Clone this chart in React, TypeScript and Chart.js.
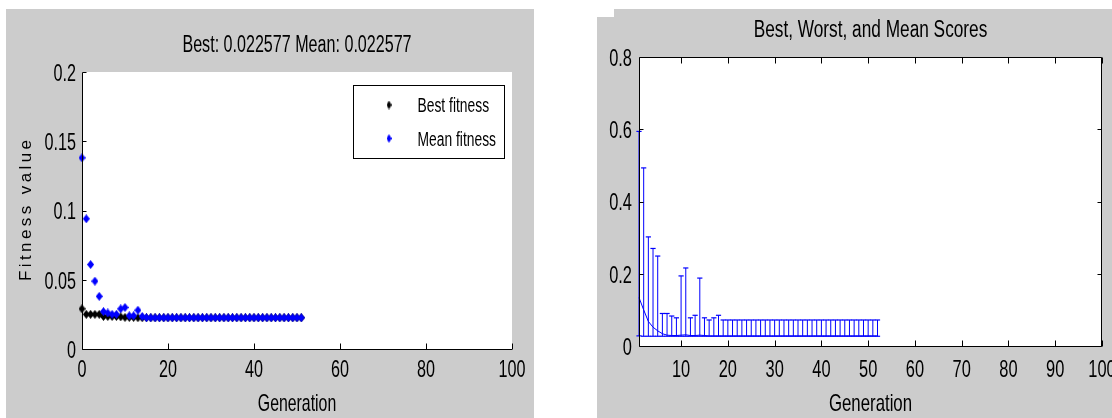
import React, { useEffect, useRef } from "react";
import { Chart, registerables } from "chart.js";

Chart.register(...registerables);

const FONT = "'Liberation Sans', Arial, sans-serif";
const BLUE = "rgb(0,0,255)";
const GRAY = "#cccccc";

// ---------- Left chart data ----------
const leftTitle = "Best: 0.022577 Mean: 0.022577";
const leftXLabel = "Generation";
const leftYLabel = "Fitness value";
const leftSeriesLabels = ["Best fitness", "Mean fitness"];
const leftGenerations = [
  0, 1, 2, 3, 4, 5, 6, 7, 8, 9, 10, 11, 12, 13, 14, 15, 16, 17, 18, 19, 20, 21, 22, 23, 24, 25,
  26, 27, 28, 29, 30, 31, 32, 33, 34, 35, 36, 37, 38, 39, 40, 41, 42, 43, 44, 45, 46, 47, 48, 49,
  50, 51,
];
const bestFitness = [
  0.029, 0.025, 0.025, 0.025, 0.025, 0.0235, 0.0235, 0.0235, 0.0235, 0.0232, 0.0228, 0.0228,
  0.0228, 0.0226, 0.022577, 0.022577, 0.022577, 0.022577, 0.022577, 0.022577, 0.022577,
  0.022577, 0.022577, 0.022577, 0.022577, 0.022577, 0.022577, 0.022577, 0.022577, 0.022577,
  0.022577, 0.022577, 0.022577, 0.022577, 0.022577, 0.022577, 0.022577, 0.022577, 0.022577,
  0.022577, 0.022577, 0.022577, 0.022577, 0.022577, 0.022577, 0.022577, 0.022577, 0.022577,
  0.022577, 0.022577, 0.022577, 0.022577,
];
const meanFitness = [
  0.138, 0.094, 0.061, 0.049, 0.038, 0.027, 0.026, 0.025, 0.025, 0.029, 0.03, 0.024, 0.024, 0.028,
  0.0235, 0.022577, 0.022577, 0.022577, 0.022577, 0.022577, 0.022577, 0.022577, 0.022577,
  0.022577, 0.022577, 0.022577, 0.022577, 0.022577, 0.022577, 0.022577, 0.022577, 0.022577,
  0.022577, 0.022577, 0.022577, 0.022577, 0.022577, 0.022577, 0.022577, 0.022577, 0.022577,
  0.022577, 0.022577, 0.022577, 0.022577, 0.022577, 0.022577, 0.022577, 0.022577, 0.022577,
  0.022577, 0.022577,
];
const leftXTicks = [0, 20, 40, 60, 80, 100];
const leftXTickLabels = ["0", "20", "40", "60", "80", "100"];
const leftYTicks = [0, 0.05, 0.1, 0.15, 0.2];
const leftYTickLabels = ["0", "0.05", "0.1", "0.15", "0.2"];

// ---------- Right chart data ----------
const rightTitle = "Best, Worst, and Mean Scores";
const rightXLabel = "Generation";
const rightGenerations = [
  1, 2, 3, 4, 5, 6, 7, 8, 9, 10, 11, 12, 13, 14, 15, 16, 17, 18, 19, 20, 21, 22, 23, 24, 25, 26,
  27, 28, 29, 30, 31, 32, 33, 34, 35, 36, 37, 38, 39, 40, 41, 42, 43, 44, 45, 46, 47, 48, 49, 50,
  51, 52,
];
const bestScores = [
  0.028, 0.027, 0.027, 0.027, 0.027, 0.027, 0.027, 0.027, 0.027, 0.027, 0.027, 0.027, 0.027,
  0.027, 0.027, 0.027, 0.027, 0.027, 0.027, 0.027, 0.027, 0.027, 0.027, 0.027, 0.027, 0.027,
  0.027, 0.027, 0.027, 0.027, 0.027, 0.027, 0.027, 0.027, 0.027, 0.027, 0.027, 0.027, 0.027,
  0.027, 0.027, 0.027, 0.027, 0.027, 0.027, 0.027, 0.027, 0.027, 0.027, 0.027, 0.027, 0.027,
];
const worstScores = [
  0.594, 0.493, 0.302, 0.27, 0.249, 0.09, 0.09, 0.083, 0.078, 0.194, 0.216, 0.078, 0.085, 0.188,
  0.078, 0.072, 0.078, 0.085, 0.072, 0.072, 0.072, 0.072, 0.072, 0.072, 0.072, 0.072, 0.072,
  0.072, 0.072, 0.072, 0.072, 0.072, 0.072, 0.072, 0.072, 0.072, 0.072, 0.072, 0.072, 0.072,
  0.072, 0.072, 0.072, 0.072, 0.072, 0.072, 0.072, 0.072, 0.072, 0.072, 0.072, 0.072,
];
const meanScores = [
  0.134, 0.1, 0.068, 0.052, 0.042, 0.034, 0.03, 0.029, 0.029, 0.03, 0.031, 0.029, 0.029, 0.03,
  0.029, 0.028, 0.028, 0.028, 0.028, 0.028, 0.028, 0.028, 0.028, 0.028, 0.028, 0.028, 0.028,
  0.028, 0.028, 0.028, 0.028, 0.028, 0.028, 0.028, 0.028, 0.028, 0.028, 0.028, 0.028, 0.028,
  0.028, 0.028, 0.028, 0.028, 0.028, 0.028, 0.028, 0.028, 0.028, 0.028, 0.028, 0.028,
];
const rightXTicks = [10, 20, 30, 40, 50, 60, 70, 80, 90, 100];
const rightXTickLabels = ["10", "20", "30", "40", "50", "60", "70", "80", "90", "100"];
const rightYTicks = [0, 0.2, 0.4, 0.6, 0.8];
const rightYTickLabels = ["0", "0.2", "0.4", "0.6", "0.8"];

// ---------- helpers ----------
function makeDiamond(color: string, w: number, h: number) {
  const c = document.createElement("canvas");
  c.width = w;
  c.height = h;
  const g = c.getContext("2d")!;
  g.fillStyle = color;
  g.beginPath();
  g.moveTo(w / 2, 0);
  g.lineTo(w, h / 2);
  g.lineTo(w / 2, h);
  g.lineTo(0, h / 2);
  g.closePath();
  g.fill();
  return c;
}

// condensed (MATLAB-like) text: regular face squeezed horizontally
function narrowText(
  ctx: CanvasRenderingContext2D,
  text: string,
  x: number,
  baseline: number,
  size: number,
  sx: number,
  align: CanvasTextAlign
) {
  ctx.save();
  ctx.translate(x, baseline);
  ctx.scale(sx, 1);
  ctx.font = `${size}px ${FONT}`;
  ctx.fillStyle = "#000";
  ctx.textAlign = align;
  ctx.textBaseline = "alphabetic";
  ctx.fillText(text, 0, 0);
  ctx.restore();
}

const backgroundPlugin = {
  id: "matlabBackground",
  beforeDraw(chart: any) {
    const { ctx, chartArea: a, width, height } = chart;
    ctx.save();
    ctx.fillStyle = GRAY;
    ctx.fillRect(0, 0, width, height);
    ctx.fillStyle = "#ffffff";
    ctx.fillRect(a.left, a.top, a.right - a.left, a.bottom - a.top);
    ctx.restore();
  },
};

function axesPlugin(box: boolean, xLen: number, yLen: number) {
  return {
    id: "matlabAxes",
    afterDatasetsDraw(chart: any) {
      const { ctx, chartArea: a, scales } = chart;
      const L = Math.round(a.left) + 0.5;
      const B = Math.round(a.bottom) + 0.5;
      const T = Math.round(a.top) + 0.5;
      const R = Math.round(a.right) - 0.5;
      ctx.save();
      ctx.strokeStyle = "#000";
      ctx.lineWidth = 1;
      ctx.beginPath();
      ctx.moveTo(L, T);
      ctx.lineTo(L, B);
      ctx.lineTo(box ? R : a.right, B);
      if (box) {
        ctx.lineTo(R, T);
        ctx.lineTo(L, T);
      }
      for (const t of scales.x.ticks) {
        const p = Math.round(scales.x.getPixelForValue(t.value)) + 0.5;
        ctx.moveTo(p, B);
        ctx.lineTo(p, B - xLen);
        if (box) {
          ctx.moveTo(p, T);
          ctx.lineTo(p, T + xLen);
        }
      }
      for (const t of scales.y.ticks) {
        const p = Math.round(scales.y.getPixelForValue(t.value)) + 0.5;
        ctx.moveTo(L, p);
        ctx.lineTo(L + yLen, p);
        if (box) {
          ctx.moveTo(R, p);
          ctx.lineTo(R - yLen, p);
        }
      }
      ctx.stroke();
      ctx.restore();
    },
  };
}

type TextCfg = {
  title: string;
  titleBaseline: number;
  titleSize: number;
  titleSx: number;
  xLabel: string;
  xLabelBaseline: number;
  xLabelSx: number;
  xTickLabels: string[];
  yTickLabels: string[];
  xTickBaseline: number;
  yTickGap: number;
  tickSize: number;
  tickSx: number;
};

function textPlugin(cfg: TextCfg) {
  return {
    id: "matlabText",
    afterDraw(chart: any) {
      const { ctx, chartArea: a, scales } = chart;
      const cx = (a.left + a.right) / 2;
      narrowText(ctx, cfg.title, cx, cfg.titleBaseline, cfg.titleSize, cfg.titleSx, "center");
      narrowText(ctx, cfg.xLabel, cx, cfg.xLabelBaseline, 24, cfg.xLabelSx, "center");
      scales.x.ticks.forEach((t: any, i: number) => {
        narrowText(
          ctx,
          cfg.xTickLabels[i],
          scales.x.getPixelForValue(t.value),
          cfg.xTickBaseline,
          cfg.tickSize,
          cfg.tickSx,
          "center"
        );
      });
      scales.y.ticks.forEach((t: any, i: number) => {
        narrowText(
          ctx,
          cfg.yTickLabels[i],
          a.left - cfg.yTickGap,
          scales.y.getPixelForValue(t.value) + cfg.tickSize * 0.358,
          cfg.tickSize,
          cfg.tickSx,
          "right"
        );
      });
    },
  };
}

const leftLegendPlugin = {
  id: "matlabLegend",
  afterDraw(chart: any) {
    const { ctx } = chart;
    const x0 = 347.5,
      y0 = 76.5,
      w = 151,
      h = 73;
    ctx.save();
    ctx.fillStyle = "#fff";
    ctx.fillRect(x0, y0, w, h);
    ctx.strokeStyle = "#000";
    ctx.lineWidth = 1;
    ctx.strokeRect(x0, y0, w, h);
    ctx.restore();
    const rows = [96, 129.5];
    chart.data.datasets.forEach((ds: any, i: number) => {
      const img = ds.legendMarker as HTMLCanvasElement;
      ctx.drawImage(img, 383 - img.width / 2, rows[i] - img.height / 2);
      narrowText(ctx, ds.label, 411.5, rows[i] + 7, 19.5, 0.71, "left");
    });
  },
};

const leftYTitlePlugin = {
  id: "matlabYTitle",
  afterDraw(chart: any) {
    const { ctx, chartArea: a } = chart;
    ctx.save();
    ctx.translate(20, (a.top + a.bottom) / 2);
    ctx.rotate(-Math.PI / 2);
    ctx.fillStyle = "#000";
    ctx.font = `17px ${FONT}`;
    (ctx as any).letterSpacing = "3.4px";
    ctx.textAlign = "center";
    ctx.textBaseline = "middle";
    ctx.fillText(leftYLabel, 1.7, 0);
    ctx.restore();
  },
};

const hiddenTicks = { display: false };

function LeftChart() {
  const ref = useRef<HTMLCanvasElement>(null);
  useEffect(() => {
    const blackD = makeDiamond("#000", 7, 9);
    const blueD = makeDiamond(BLUE, 7, 9);
    const chart = new Chart(ref.current!, {
      type: "scatter",
      data: {
        datasets: [
          {
            label: leftSeriesLabels[0],
            data: leftGenerations.map((g, i) => ({ x: g, y: bestFitness[i] })),
            pointStyle: blackD as any,
            pointRadius: 4,
            order: 1,
            clip: false as any,
            legendMarker: makeDiamond("#000", 5, 9),
          } as any,
          {
            label: leftSeriesLabels[1],
            data: leftGenerations.map((g, i) => ({ x: g, y: meanFitness[i] })),
            pointStyle: blueD as any,
            pointRadius: 4,
            order: 0,
            clip: false as any,
            legendMarker: makeDiamond(BLUE, 5, 9),
          } as any,
        ],
      },
      options: {
        responsive: false,
        animation: false,
        events: [],
        layout: { padding: { left: 0, right: 22, top: 63, bottom: 0 } },
        plugins: {
          legend: { display: false },
          tooltip: { enabled: false },
          title: { display: false },
        },
        scales: {
          x: {
            type: "linear",
            min: 0,
            max: 100,
            afterBuildTicks: (s: any) => {
              s.ticks = leftXTicks.map((v) => ({ value: v }));
            },
            afterFit: (s: any) => {
              s.height = 69;
              s.paddingLeft = 0;
              s.paddingRight = 0;
            },
            grid: { display: false, drawTicks: false },
            border: { display: false },
            ticks: hiddenTicks,
          },
          y: {
            type: "linear",
            min: 0,
            max: 0.2,
            afterBuildTicks: (s: any) => {
              s.ticks = leftYTicks.map((v) => ({ value: v }));
            },
            afterFit: (s: any) => {
              s.width = 76;
              s.paddingTop = 0;
              s.paddingBottom = 0;
            },
            grid: { display: false, drawTicks: false },
            border: { display: false },
            ticks: hiddenTicks,
          },
        },
      },
      plugins: [
        backgroundPlugin,
        axesPlugin(false, 6, 4),
        textPlugin({
          title: leftTitle,
          titleBaseline: 42.7,
          titleSize: 23,
          titleSx: 0.7,
          xLabel: leftXLabel,
          xLabelBaseline: 401.5,
          xLabelSx: 0.66,
          xTickLabels: leftXTickLabels,
          yTickLabels: leftYTickLabels,
          xTickBaseline: 368,
          yTickGap: 6,
          tickSize: 24.5,
          tickSx: 0.66,
        }),
        leftLegendPlugin,
        leftYTitlePlugin,
      ],
    } as any);
    return () => chart.destroy();
  }, []);
  return (
    <canvas
      ref={ref}
      width={528}
      height={409}
      style={{ position: "absolute", left: 6, top: 9, width: 528, height: 409 }}
    />
  );
}

function RightChart() {
  const ref = useRef<HTMLCanvasElement>(null);
  useEffect(() => {
    const rangeData: any[] = [];
    rightGenerations.forEach((g, i) => {
      rangeData.push({ x: g, y: bestScores[i] });
      rangeData.push({ x: g, y: worstScores[i] });
      rangeData.push({ x: g, y: null });
    });
    const chart = new Chart(ref.current!, {
      type: "scatter",
      data: {
        datasets: [
          {
            label: "Mean",
            data: rightGenerations.map((g, i) => ({ x: g, y: meanScores[i] })),
            showLine: true,
            borderColor: BLUE,
            borderWidth: 1,
            pointRadius: 0,
            tension: 0,
            clip: false as any,
          },
          {
            label: "Range",
            data: rangeData,
            showLine: true,
            spanGaps: false,
            borderColor: BLUE,
            borderWidth: 1,
            pointRadius: 0,
            clip: false as any,
          },
          {
            label: "Worst",
            data: rightGenerations.map((g, i) => ({ x: g, y: worstScores[i] })),
            pointStyle: "line",
            pointRadius: 2.6,
            pointBorderColor: BLUE,
            pointBackgroundColor: BLUE,
            pointBorderWidth: 1.2,
            clip: false as any,
          },
          {
            label: "Best",
            data: rightGenerations.map((g, i) => ({ x: g, y: bestScores[i] })),
            pointStyle: "line",
            pointRadius: 2.6,
            pointBorderColor: BLUE,
            pointBackgroundColor: BLUE,
            pointBorderWidth: 1.2,
            clip: false as any,
          },
        ],
      },
      options: {
        responsive: false,
        animation: false,
        events: [],
        layout: { padding: { left: 0, right: 10, top: 48, bottom: 0 } },
        plugins: {
          legend: { display: false },
          tooltip: { enabled: false },
          title: { display: false },
        },
        scales: {
          x: {
            type: "linear",
            min: 1,
            max: 100,
            afterBuildTicks: (s: any) => {
              s.ticks = rightXTicks.map((v) => ({ value: v }));
            },
            afterFit: (s: any) => {
              s.height = 72;
              s.paddingLeft = 0;
              s.paddingRight = 0;
            },
            grid: { display: false, drawTicks: false },
            border: { display: false },
            ticks: hiddenTicks,
          },
          y: {
            type: "linear",
            min: 0,
            max: 0.8,
            afterBuildTicks: (s: any) => {
              s.ticks = rightYTicks.map((v) => ({ value: v }));
            },
            afterFit: (s: any) => {
              s.width = 42;
              s.paddingTop = 0;
              s.paddingBottom = 0;
            },
            grid: { display: false, drawTicks: false },
            border: { display: false },
            ticks: hiddenTicks,
          },
        },
      },
      plugins: [
        backgroundPlugin,
        axesPlugin(true, 6, 4),
        textPlugin({
          title: rightTitle,
          titleBaseline: 27.7,
          titleSize: 23,
          titleSx: 0.75,
          xLabel: rightXLabel,
          xLabelBaseline: 401.5,
          xLabelSx: 0.7,
          xTickLabels: rightXTickLabels,
          yTickLabels: rightYTickLabels,
          xTickBaseline: 367.7,
          yTickGap: 7,
          tickSize: 24.5,
          tickSx: 0.67,
        }),
      ],
    } as any);
    return () => chart.destroy();
  }, []);
  return (
    <canvas
      ref={ref}
      width={515}
      height={409}
      style={{ position: "absolute", left: 597, top: 9, width: 515, height: 409 }}
    />
  );
}

export default function App() {
  return (
    <div
      style={{
        position: "absolute",
        left: 0,
        top: 0,
        width: 1112,
        height: 418,
        background: "#ffffff",
        overflow: "hidden",
      }}
    >
      <LeftChart />
      <RightChart />
      <div
        style={{
          position: "absolute",
          left: 597,
          top: 9,
          width: 17,
          height: 8,
          background: "#ffffff",
        }}
      />
    </div>
  );
}
